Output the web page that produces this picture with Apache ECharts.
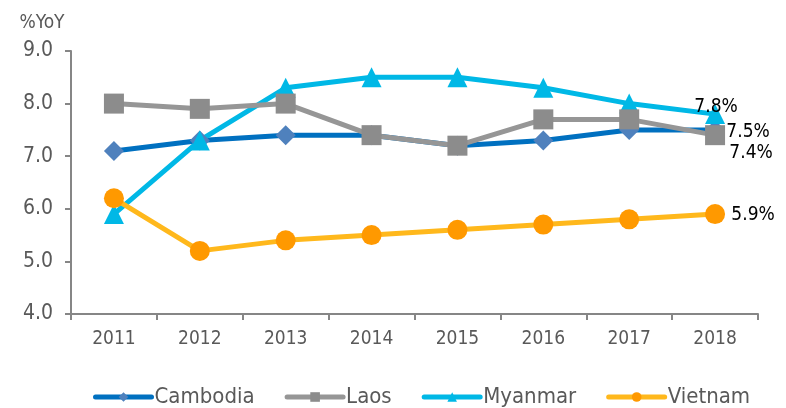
<!DOCTYPE html>
<html>
<head>
<meta charset="utf-8">
<script src="https://cdn.jsdelivr.net/npm/echarts@6/dist/echarts.min.js"></script>
<style>
html, body { margin: 0; padding: 0; background: #fff; }
#chart { width: 786px; height: 408px; }
</style>
</head>
<body>
<div id="chart"></div>
<script>
// 年份
var years = ["2011", "2012", "2013", "2014", "2015", "2016", "2017", "2018"];
// 各国增速 %YoY
var cambodia = [7.1, 7.3, 7.4, 7.4, 7.2, 7.3, 7.5, 7.5];
var laos = [8.0, 7.9, 8.0, 7.4, 7.2, 7.7, 7.7, 7.4];
var myanmar = [5.9, 7.3, 8.3, 8.5, 8.5, 8.3, 8.0, 7.8];
var vietnam = [6.2, 5.2, 5.4, 5.5, 5.6, 5.7, 5.8, 5.9];

var font = "'DejaVu Sans Condensed', 'DejaVu Sans', sans-serif";
var grey = "#595959";

// 只在最后一个点显示标签
function endLabel(offset) {
    return {
        show: true,
        position: "inside",
        offset: offset,
        formatter: function (p) {
            return p.dataIndex === years.length - 1 ? p.value.toFixed(1) + "%" : "";
        },
        color: "#000",
        fontSize: 19,
        fontFamily: font,
    };
}

function makeSeries(name, data, lineColor, markColor, symbol, label) {
    return {
        name: name,
        type: "line",
        data: data,
        symbol: symbol,
        symbolSize: 20,
        lineStyle: { color: lineColor, width: 5 },
        itemStyle: { color: markColor },
        label: label,
    };
}

var chart = echarts.init(document.getElementById("chart"));
chart.setOption({
    animation: false,
    grid: { left: 71, right: 28, top: 51, bottom: 94 },
    legend: {
        top: 386,
        left: 93,
        padding: 0,
        itemWidth: 56,
        itemHeight: 12,
        itemGap: 30,
        lineStyle: { width: 5, cap: "round" },
        textStyle: { color: grey, fontSize: 22, fontFamily: font, padding: [0, 0, 0, -2] },
        data: ["Cambodia", "Laos", "Myanmar", "Vietnam"],
    },
    xAxis: {
        type: "category",
        data: years,
        boundaryGap: true,
        axisLine: { lineStyle: { color: "#868686", width: 2 } },
        axisTick: { show: true, length: 6, lineStyle: { color: "#868686", width: 2 } },
        axisLabel: { color: grey, fontSize: 19, fontFamily: font, margin: 16 },
    },
    yAxis: {
        type: "value",
        min: 4,
        max: 9,
        interval: 1,
        name: "%YoY",
        nameLocation: "end",
        nameGap: 18,
        nameTextStyle: { color: grey, fontSize: 19, fontFamily: font, align: "center", padding: [0, 58, 0, 0] },
        splitLine: { show: false },
        axisLine: { show: true, lineStyle: { color: "#868686", width: 2 } },
        axisTick: { show: true, length: 6, lineStyle: { color: "#868686", width: 2 } },
        axisLabel: {
            color: grey,
            fontSize: 21,
            fontFamily: font,
            margin: 18,
            formatter: function (v) { return v.toFixed(1); },
        },
    },
    series: [
        makeSeries("Cambodia", cambodia, "#0070C0", "#4F81BD", "diamond", endLabel([33, 2])),
        makeSeries("Myanmar", myanmar, "#00B8E6", "#00B8E6", "triangle", endLabel([1, -7])),
        makeSeries("Laos", laos, "#969696", "#8C8C8C", "rect", endLabel([36, 18])),
        makeSeries("Vietnam", vietnam, "#FFB81C", "#FF9900", "circle", endLabel([38, 1])),
    ],
});
</script>
</body>
</html>
